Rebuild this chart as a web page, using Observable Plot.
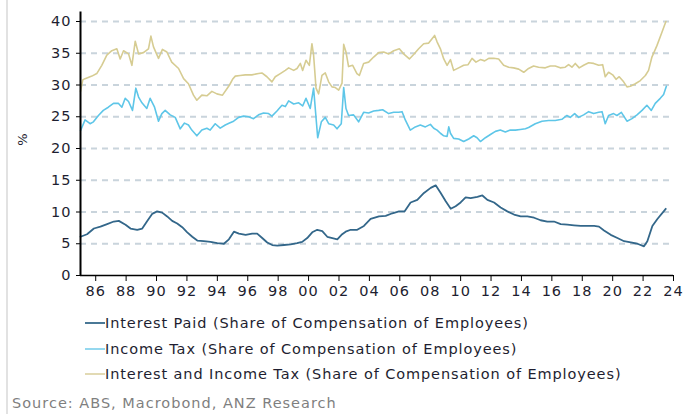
<!DOCTYPE html>
<html>
<head>
<meta charset="utf-8">
<script src="https://cdn.jsdelivr.net/npm/d3@7"></script>
<script src="https://cdn.jsdelivr.net/npm/@observablehq/plot@0.6"></script>
<style>
  html, body { margin: 0; padding: 0; background: #fff; }
  #wrap { position: relative; width: 697px; height: 414px; overflow: hidden; font-family: "DejaVu Sans", Verdana, sans-serif; }
  #frame { position: absolute; left: 6px; top: 0; width: 2px; height: 414px; background: #e2e2e2; }
  #chart { position: absolute; left: 0; top: 0; }
  .leg { position: absolute; left: 85px; font-size: 14.5px; letter-spacing: 0.9px; color: #1e1e30; white-space: nowrap; display: flex; align-items: center; }
  .sw { display: inline-block; width: 20px; height: 2px; margin-right: 0px; }
  #src { position: absolute; left: 12px; top: 395px; font-size: 14.5px; letter-spacing: 1px; color: #7f7f7f; }
  #ylab { position: absolute; left: 16px; top: 132px; font-size: 13px; color: #1e1e30; transform: rotate(-90deg); transform-origin: center; }
</style>
</head>
<body>
<div id="wrap">
  <div id="frame"></div>
  <div id="chart"></div>
  <div id="ylab">%</div>
  <div id="legend"></div>
  <div id="src">Source: ABS, Macrobond, ANZ Research</div>
</div>
<script>
// ---- Data ----
const seriesNames = [
  "Interest Paid (Share of Compensation of Employees)",
  "Income Tax (Share of Compensation of Employees)",
  "Interest and Income Tax (Share of Compensation of Employees)"
];

const interestT = [1985.0,1985.43,1985.88,1986.31,1986.75,1987.19,1987.52,1987.96,1988.29,1988.73,1989.06,1989.39,1989.71,1990.04,1990.37,1990.7,1991.03,1991.36,1991.69,1992.02,1992.35,1992.68,1993.11,1993.55,1993.99,1994.43,1994.76,1995.09,1995.42,1995.86,1996.29,1996.62,1996.95,1997.28,1997.61,1997.94,1998.38,1998.82,1999.25,1999.58,1999.91,2000.24,2000.57,2000.9,2001.23,2001.56,2001.89,2002.21,2002.44,2002.77,2003.2,2003.64,2004.08,2004.63,2005.07,2005.51,2005.95,2006.32,2006.71,2007.15,2007.59,2008.03,2008.36,2008.69,2009.02,2009.35,2009.67,2010.0,2010.33,2010.66,2011.1,2011.43,2011.76,2012.2,2012.63,2013.07,2013.51,2013.95,2014.39,2014.83,2015.26,2015.7,2016.14,2016.58,2017.02,2017.46,2017.9,2018.34,2018.78,2019.1,2019.43,2019.87,2020.31,2020.75,2021.19,2021.63,2022.06,2022.28,2022.61,2022.94,2023.49];
const interestV = [6.1,6.5,7.4,7.7,8.1,8.5,8.6,8.0,7.4,7.2,7.4,8.6,9.7,10.1,9.9,9.3,8.6,8.2,7.6,6.8,6.1,5.5,5.4,5.3,5.1,5.0,5.7,6.9,6.6,6.4,6.6,6.6,5.9,5.2,4.8,4.7,4.8,4.9,5.1,5.3,5.9,6.8,7.2,7.0,6.1,5.9,5.7,6.5,6.9,7.2,7.2,7.8,8.9,9.3,9.4,9.8,10.1,10.1,11.5,11.9,13.0,13.8,14.2,13.0,11.7,10.5,10.9,11.5,12.3,12.2,12.4,12.6,11.9,11.5,10.7,10.1,9.6,9.3,9.3,9.1,8.7,8.5,8.5,8.1,8.0,7.9,7.8,7.8,7.8,7.7,7.1,6.4,5.9,5.4,5.2,5.0,4.6,5.4,7.8,8.9,10.5];

const taxT = [1985.0,1985.3,1985.63,1985.85,1986.18,1986.5,1986.83,1987.17,1987.5,1987.72,1987.94,1988.16,1988.42,1988.64,1988.82,1989.04,1989.36,1989.58,1989.87,1990.13,1990.35,1990.57,1990.9,1991.23,1991.56,1991.84,1992.1,1992.32,1992.65,1992.98,1993.31,1993.53,1993.86,1994.19,1994.52,1994.8,1995.07,1995.4,1995.73,1996.06,1996.38,1996.71,1997.04,1997.37,1997.59,1997.92,1998.25,1998.47,1998.69,1999.02,1999.35,1999.61,1999.83,2000.11,2000.33,2000.44,2000.6,2000.84,2001.1,2001.32,2001.65,2001.87,2002.15,2002.31,2002.46,2002.63,2002.96,2003.29,2003.62,2003.95,2004.28,2004.61,2004.87,2005.27,2005.6,2005.93,2006.15,2006.36,2006.69,2007.02,2007.35,2007.68,2008.01,2008.23,2008.45,2008.67,2008.89,2009.11,2009.22,2009.33,2009.54,2009.87,2010.2,2010.53,2010.86,2011.08,2011.3,2011.63,2011.96,2012.29,2012.61,2012.94,2013.27,2013.6,2013.93,2014.26,2014.47,2014.91,2015.35,2015.79,2016.22,2016.66,2016.99,2017.21,2017.5,2017.76,2018.09,2018.42,2018.75,2019.08,2019.3,2019.51,2019.73,2020.06,2020.28,2020.57,2020.94,2021.27,2021.6,2021.93,2022.25,2022.54,2022.8,2023.13,2023.35,2023.53];
const taxV = [22.8,24.5,23.9,24.2,25.2,26.0,26.5,27.1,27.1,26.5,27.9,27.4,26.0,29.5,28.1,27.2,26.3,27.9,26.5,24.3,25.5,26.0,25.3,24.9,23.1,24.0,23.7,22.9,22.0,22.9,23.2,22.9,23.9,23.2,23.7,24.0,24.3,24.9,25.1,25.0,24.7,25.3,25.6,25.5,25.1,25.9,26.8,26.6,27.5,27.0,27.2,26.7,27.9,26.3,29.5,26.3,21.7,24.2,24.9,23.9,23.7,23.1,23.9,29.6,26.3,25.2,25.3,24.2,25.7,25.6,25.9,26.0,26.1,25.5,25.7,25.7,25.8,24.5,22.9,23.4,23.7,23.4,23.8,23.2,22.9,22.4,22.0,21.9,23.4,22.4,21.6,21.5,21.1,21.5,22.0,21.7,21.1,21.7,22.2,22.7,22.9,22.6,22.9,22.9,23.0,23.1,23.3,23.9,24.3,24.4,24.4,24.6,25.2,24.9,25.5,24.9,25.3,25.8,25.5,25.7,25.8,23.9,25.2,25.5,25.2,25.7,24.3,24.7,25.3,26.0,26.8,26.0,27.1,27.9,28.5,29.8];

const totalT = [1985.0,1985.15,1985.3,1985.75,1986.07,1986.4,1986.73,1987.06,1987.39,1987.61,1987.83,1988.16,1988.38,1988.6,1988.82,1989.14,1989.47,1989.63,1989.8,1990.13,1990.39,1990.68,1991.0,1991.45,1991.78,1992.1,1992.43,1992.65,1992.98,1993.31,1993.64,1993.97,1994.34,1994.63,1994.8,1995.0,1995.18,1995.5,1995.84,1996.27,1996.71,1996.93,1997.26,1997.59,1997.81,1998.14,1998.47,1998.69,1999.02,1999.24,1999.46,1999.61,1999.83,2000.05,2000.22,2000.33,2000.49,2000.66,2000.88,2001.1,2001.32,2001.54,2001.76,2001.98,2002.2,2002.31,2002.46,2002.63,2002.9,2003.18,2003.34,2003.62,2003.95,2004.28,2004.61,2004.94,2005.27,2005.6,2005.97,2006.25,2006.63,2006.91,2007.24,2007.57,2007.9,2008.12,2008.29,2008.45,2008.67,2008.89,2009.11,2009.33,2009.54,2009.87,2010.2,2010.49,2010.75,2011.01,2011.3,2011.58,2011.85,2012.18,2012.5,2012.83,2013.16,2013.49,2013.82,2014.15,2014.47,2014.8,2015.13,2015.57,2015.9,2016.22,2016.55,2016.88,2017.1,2017.32,2017.54,2017.8,2018.09,2018.42,2018.75,2019.08,2019.34,2019.51,2019.73,2020.0,2020.22,2020.43,2020.72,2020.94,2021.16,2021.49,2021.82,2022.15,2022.36,2022.58,2022.91,2023.24,2023.5];
const totalV = [29.0,30.8,31.0,31.4,31.8,33.1,34.7,35.4,35.7,34.1,35.4,34.9,33.1,36.9,34.9,35.1,35.7,37.7,36.0,34.2,35.6,35.2,33.6,32.6,31.0,30.2,28.4,27.6,28.4,28.3,29.0,28.6,28.4,29.4,30.0,30.9,31.4,31.5,31.6,31.6,31.8,31.9,31.3,30.5,31.3,31.8,32.3,32.7,32.3,32.6,33.4,32.3,33.9,33.1,36.5,34.7,29.5,28.6,31.5,31.9,30.5,29.7,29.6,29.2,30.3,36.4,35.2,32.9,33.1,31.8,31.5,33.4,33.6,34.4,35.1,35.2,34.9,35.4,35.7,34.9,34.1,34.8,35.7,36.5,36.6,37.3,37.8,36.8,35.7,34.1,33.1,34.0,32.3,32.7,33.1,33.2,34.2,33.6,34.0,33.8,34.2,34.2,34.1,33.1,32.8,32.7,32.5,32.0,32.6,33.0,32.8,32.7,33.0,33.0,32.7,32.8,33.2,32.8,33.4,32.7,33.1,33.5,33.4,33.1,33.2,31.3,32.0,31.6,30.9,31.3,30.5,29.7,29.8,30.2,30.7,31.5,32.3,34.4,36.2,38.3,40.0];

const xTicks = [1986,1988,1990,1992,1994,1996,1998,2000,2002,2004,2006,2008,2010,2012,2014,2016,2018,2020,2022,2024];
const yTicks = [0,5,10,15,20,25,30,35,40];
const gridTicks = [5,10,15,20,25,30,35,40];

const colors = ["#33678a", "#5ec6e8", "#d6cc92"];
const legendColors = ["#4a7896", "#95d8ef", "#e2dab4"];

// ---- Build tables ----
const toRows = (T, V) => T.map((t, i) => ({t, v: V[i]}));
const interest = toRows(interestT, interestV);
const tax = toRows(taxT, taxV);
const total = toRows(totalT, totalV);

const chart = Plot.plot({
  width: 697,
  height: 305,
  marginLeft: 80,
  marginRight: 24,
  marginTop: 21,
  marginBottom: 30,
  style: { fontFamily: "DejaVu Sans, Verdana, sans-serif", fontSize: "14.5px", letterSpacing: "1px", color: "#1e1e30", background: "transparent" },
  x: { domain: [1985, 2024] },
  y: { domain: [0, 40] },
  marks: [
    Plot.ruleY(gridTicks, { stroke: "#c9d4dc", strokeWidth: 2, strokeDasharray: "6,5" }),
    Plot.line(total, { x: "t", y: "v", stroke: colors[2], strokeWidth: 1.6 }),
    Plot.line(tax, { x: "t", y: "v", stroke: colors[1], strokeWidth: 1.6 }),
    Plot.line(interest, { x: "t", y: "v", stroke: colors[0], strokeWidth: 1.8 }),
    Plot.axisX({ ticks: xTicks, tickSize: 6, tickPadding: 4, tickFormat: d => String(d % 100).padStart(2, "0"), fontSize: 14.5, label: null, stroke: "#000" }),
    Plot.axisY({ ticks: yTicks, tickSize: 4, tickPadding: 5, fontSize: 14.5, label: null, stroke: "#000" }),
    Plot.ruleY([0], { stroke: "#000", strokeWidth: 1.5 }),
    Plot.ruleX([1985], { y1: 0, y2: 41.5, stroke: "#000", strokeWidth: 2 })
  ]
});
document.getElementById("chart").appendChild(chart);

// ---- Legend ----
const legendTops = [315, 341, 366];
const leg = document.getElementById("legend");
seriesNames.forEach((name, i) => {
  const d = document.createElement("div");
  d.className = "leg";
  d.style.top = legendTops[i] + "px";
  const sw = document.createElement("span");
  sw.className = "sw";
  sw.style.background = legendColors[i];
  d.appendChild(sw);
  d.appendChild(document.createTextNode(name));
  leg.appendChild(d);
});
</script>
</body>
</html>
